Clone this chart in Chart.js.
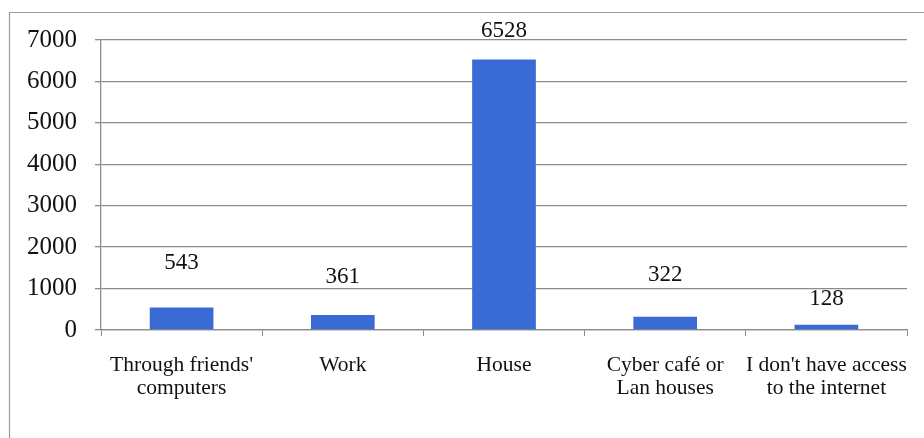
<!DOCTYPE html>
<html>
<head>
<meta charset="utf-8">
<script src="https://cdn.jsdelivr.net/npm/chart.js@4"></script>
<style>
  html, body { margin: 0; padding: 0; background: #fff; }
  #wrap { width: 924px; height: 438px; position: relative; }
  #probe { font-family: "Liberation Serif"; position: absolute; left: -999px; }
</style>
</head>
<body>
<span id="probe">0123 Through</span>
<div id="wrap"><canvas id="myChart" width="924" height="438"></canvas></div>
<script>
var categories = [
    ["Through friends'", "computers"],
    ["Work"],
    ["House"],
    ["Cyber café or", "Lan houses"],
    ["I don't have access", "to the internet"]
];
var accessCounts = [543, 361, 6528, 322, 128];
var yTicks = [0, 1000, 2000, 3000, 4000, 5000, 6000, 7000];

// how far above each bar its value sits (px), as in the original figure
var labelRaise = [45, 38, 29, 42, 26];

var serif = '"Liberation Serif", "DejaVu Serif", serif';

// outer frame of the figure
var framePlugin = {
    id: 'frame',
    beforeDraw: function(chart) {
        var c = chart.ctx;
        c.save();
        c.strokeStyle = '#9a9a9a';
        c.lineWidth = 1.2;
        c.beginPath();
        c.moveTo(9.5, 440);
        c.lineTo(9.5, 12.5);
        c.lineTo(930, 12.5);
        c.stroke();
        c.restore();
    }
};

// value labels above the bars
var valuePlugin = {
    id: 'values',
    afterDatasetsDraw: function(chart) {
        var c = chart.ctx;
        var meta = chart.getDatasetMeta(0);
        c.save();
        c.font = '23px ' + serif;
        c.fillStyle = '#111';
        c.textAlign = 'center';
        c.textBaseline = 'middle';
        meta.data.forEach(function(bar, i) {
            c.fillText(accessCounts[i], bar.x, bar.y - labelRaise[i]);
        });
        c.restore();
    }
};

function drawChart() {
    var ctx = document.getElementById('myChart');
    new Chart(ctx, {
        type: 'bar',
        data: {
            labels: categories,
            datasets: [{
                data: accessCounts,
                backgroundColor: '#3a6ad4',
                borderWidth: 0,
                categoryPercentage: 1,
                barPercentage: 0.395
            }]
        },
        options: {
            responsive: false,
            animation: false,
            layout: { padding: { top: 40, right: 17, left: 0, bottom: 0 } },
            plugins: {
                legend: { display: false },
                tooltip: { enabled: false }
            },
            scales: {
                x: {
                    grid: {
                        display: true,
                        drawOnChartArea: false,
                        tickLength: 6,
                        color: '#8c8c8c',
                        offset: true
                    },
                    border: { color: '#8c8c8c', width: 1.3 },
                    ticks: {
                        font: { family: serif, size: 21.5, lineHeight: 1.08 },
                        color: '#111',
                        padding: 18,
                        maxRotation: 0,
                        autoSkip: false
                    },
                    afterFit: function(scale) {
                        scale.height = 108;
                        // labels fit inside the frame; keep the plot to its width
                        scale.paddingLeft = 0;
                        scale.paddingRight = 0;
                    }
                },
                y: {
                    min: 0,
                    max: 7000,
                    afterBuildTicks: function(scale) {
                        scale.ticks = yTicks.map(function(v) { return { value: v }; });
                    },
                    grid: {
                        color: '#8c8c8c',
                        lineWidth: 1.3,
                        tickLength: 6
                    },
                    border: { color: '#8c8c8c', width: 1.3 },
                    ticks: {
                        font: { family: serif, size: 25 },
                        color: '#111',
                        padding: 18,
                        callback: function(v) { return String(v); }
                    },
                    afterFit: function(scale) { scale.width = 101; }
                }
            }
        },
        plugins: [framePlugin, valuePlugin]
    });
}

if (document.fonts && document.fonts.load) {
    Promise.all([
        document.fonts.load('20px "Liberation Serif"'),
        document.fonts.load('25px "Liberation Serif"')
    ]).then(drawChart, drawChart);
} else {
    drawChart();
}
</script>
</body>
</html>
